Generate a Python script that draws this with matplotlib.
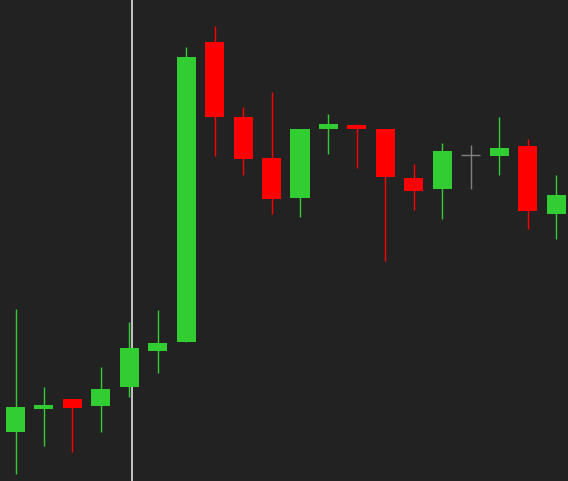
import matplotlib
matplotlib.use("Agg")
import matplotlib.pyplot as plt
import numpy as np

# OHLC values
opens = [49, 72, 82, 75, 94, 130, 139, 439, 364, 323, 283, 352, 356, 352, 303, 292, 326, 325, 335, 267]
highs = [172, 94, 82, 114, 159, 171, 434, 455, 374, 389, 352, 367, 357, 352, 317, 338, 336, 364, 342, 306]
lows = [7, 35, 29, 49, 84, 108, 139, 325, 306, 267, 264, 327, 313, 220, 271, 262, 292, 306, 252, 242]
closes = [74, 76, 73, 92, 133, 138, 424, 364, 322, 282, 352, 357, 352, 304, 290, 330, 326, 333, 270, 286]
cursor_x = 4.08

bg = "#222222"
up_color = "#32cd32"
down_color = "#ff0000"
flat_color = "#808080"
body_width = 0.67

fig = plt.figure(figsize=(5.68, 4.812), dpi=100, facecolor=bg)
ax = fig.add_axes([0, 0, 1, 1])
ax.set_facecolor(bg)

x = np.arange(len(opens))
for i in x:
    o, h, l, c = opens[i], highs[i], lows[i], closes[i]
    if c > o:
        col = up_color
    elif c < o:
        col = down_color
    else:
        col = flat_color
    ax.vlines(i, l, h, color=col, linewidth=1, zorder=2)
    if c == o:
        ax.hlines(o, i - body_width / 2, i + body_width / 2, color=col, linewidth=1, zorder=3)
    else:
        ax.bar(i, abs(c - o), bottom=min(o, c), width=body_width, color=col,
               edgecolor="none", zorder=3)

ax.axvline(cursor_x, color="#e0e0e0", linewidth=1.2, zorder=1)

ax.set_xlim(-0.545, 19.42)
ax.set_ylim(0, 481)
ax.axis("off")

fig.savefig("out.png", dpi=100, facecolor=bg)
